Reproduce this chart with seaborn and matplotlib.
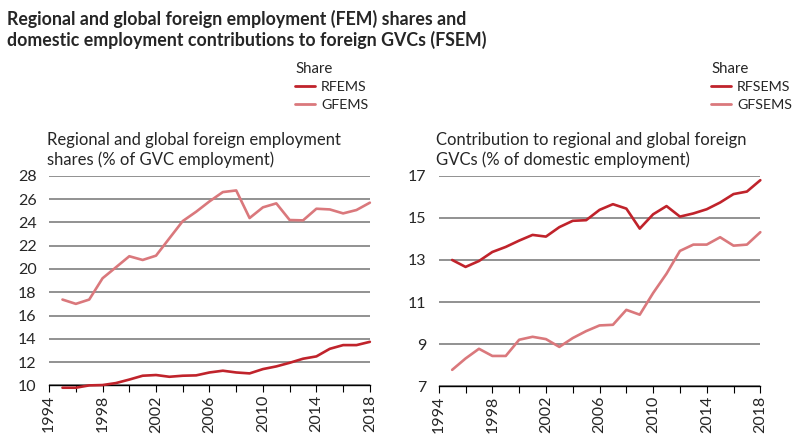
import seaborn as sns
import matplotlib.pyplot as plt
import pandas as pd

# values
years = list(range(1995, 2019))
rfems = [9.8, 9.8, 10.0, 10.03, 10.2, 10.5, 10.83, 10.89, 10.74, 10.83, 10.86, 11.11,
         11.26, 11.11, 11.03, 11.4, 11.63, 11.94, 12.29, 12.49, 13.14, 13.46, 13.46, 13.74]
gfems = [17.37, 17.0, 17.37, 19.2, 20.14, 21.09, 20.77, 21.14, 22.63, 24.11, 24.91, 25.8,
         26.6, 26.74, 24.37, 25.29, 25.63, 24.2, 24.17, 25.17, 25.11, 24.77, 25.06, 25.69]
rfsems = [13.0, 12.67, 12.95, 13.38, 13.62, 13.92, 14.19, 14.11, 14.56, 14.86, 14.89, 15.38,
          15.65, 15.44, 14.49, 15.17, 15.56, 15.06, 15.21, 15.41, 15.73, 16.13, 16.25, 16.79]
gfsems = [7.78, 8.32, 8.78, 8.44, 8.44, 9.21, 9.35, 9.24, 8.87, 9.29, 9.62, 9.89,
          9.92, 10.63, 10.4, 11.43, 12.35, 13.43, 13.73, 13.73, 14.08, 13.68, 13.73, 14.32]

title = ("Regional and global foreign employment (FEM) shares and\n"
         "domestic employment contributions to foreign GVCs (FSEM)")
left_sub = "Regional and global foreign employment\nshares (% of GVC employment)"
right_sub = "Contribution to regional and global foreign\nGVCs (% of domestic employment)"

dark_red = "#c0232b"
light_red = "#da787c"

left_df = pd.DataFrame({"year": years * 2, "value": rfems + gfems,
                        "Share": ["RFEMS"] * 24 + ["GFEMS"] * 24})
right_df = pd.DataFrame({"year": years * 2, "value": rfsems + gfsems,
                         "Share": ["RFSEMS"] * 24 + ["GFSEMS"] * 24})

sns.set_theme(style="white")
plt.rcParams["font.family"] = ["Lato", "DejaVu Sans"]

fig = plt.figure(figsize=(7.92, 4.34), dpi=100)
fig.text(0.009, 0.978, title, fontsize=12.8, fontweight="bold", va="top", ha="left",
         linespacing=1.2)


def draw_panel(ax, df, names, ylim, yticks, subtitle, leg_x):
    sns.lineplot(data=df, x="year", y="value", hue="Share", hue_order=names,
                 palette=[dark_red, light_red], linewidth=1.9, ax=ax, legend=True)
    # the RFEMS series dips just under the axis floor, keep it visible
    for line in ax.lines:
        line.set_clip_on(False)
    ax.set_xlim(1994, 2018)
    ax.set_ylim(*ylim)
    ax.set_yticks(yticks)
    ax.set_xticks(range(1994, 2019, 4))
    ax.set_xticks(range(1994, 2019, 2), minor=True)
    ax.set_xlabel("")
    ax.set_ylabel("")
    ax.tick_params(axis="x", which="both", direction="out", length=5, width=0.8,
                   color="black", bottom=True, labelrotation=90, labelsize=11.5, pad=2)
    ax.tick_params(axis="y", length=0, labelsize=11.5, pad=9)
    for t in ax.get_xticklabels():
        t.set_ha("center")
    ax.grid(axis="y", color="#7f7f7f", linewidth=1.2)
    ax.set_axisbelow(True)
    for s in ["top", "right", "left"]:
        ax.spines[s].set_visible(False)
    ax.spines["bottom"].set_color("black")
    ax.spines["bottom"].set_linewidth(1.0)
    ax.spines["bottom"].set_zorder(1)
    pos = ax.get_position()
    fig.text(pos.x0 - 0.003, 0.613, subtitle, fontsize=12, va="bottom", ha="left",
             linespacing=1.25)
    leg = ax.legend(title="Share", loc="upper left", bbox_to_anchor=(leg_x, 0.858),
                    bbox_transform=fig.transFigure, frameon=False, fontsize=10.3,
                    title_fontsize=10.8, handlelength=1.35, handletextpad=0.45,
                    labelspacing=0.4, borderpad=0, borderaxespad=0, alignment="left")
    for line in leg.get_lines():
        line.set_linewidth(2.0)


ax1 = fig.add_axes([0.062, 0.112, 0.405, 0.483])
draw_panel(ax1, left_df, ["RFEMS", "GFEMS"], (10, 28), range(10, 29, 2), left_sub, 0.373)

ax2 = fig.add_axes([0.554, 0.110, 0.406, 0.485])
draw_panel(ax2, right_df, ["RFSEMS", "GFSEMS"], (7, 17), range(7, 18, 2), right_sub, 0.898)

fig.savefig("out.png", dpi=100)
